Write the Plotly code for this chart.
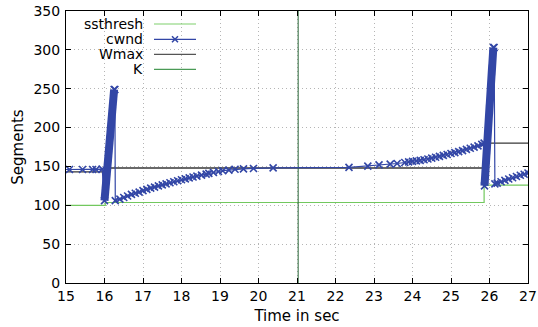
import plotly.graph_objects as go

# ---- data ----
ss_time = [15, 16.02, 25.86, 27]
ssthresh = [100, 103.6, 126, 126]

wmax_time = [15, 16.02, 25.86, 27]
wmax = [143, 148, 180, 180]

k_time = [21.03, 21.03]
k_val = [0, 350]

cwnd_time = [14.9, 15.09, 15.43, 15.69, 15.78, 15.94,
             16.00, 16.25, 16.27, 16.28,
             16.40, 16.50, 16.60, 16.70, 16.80, 16.90, 17.00, 17.10, 17.20, 17.30,
             17.40, 17.50, 17.60, 17.70, 17.80, 17.90, 18.00, 18.10, 18.20, 18.30,
             18.40, 18.52, 18.64, 18.71, 18.83, 18.96, 19.07, 19.23, 19.39, 19.61,
             19.87, 20.38,
             22.35, 22.84, 23.13, 23.42, 23.60, 23.80, 23.90, 24.00, 24.10, 24.20,
             24.30, 24.40, 24.50, 24.60, 24.70, 24.80, 24.90, 25.00, 25.10, 25.20,
             25.30, 25.40, 25.50, 25.60, 25.70, 25.80, 25.86,
             25.87, 26.10, 26.12, 26.14,
             26.20, 26.30, 26.40, 26.50, 26.60, 26.70, 26.80, 26.90, 27.00]
cwnd = [146, 146, 146, 146, 146, 146.5,
        106, 249, 249, 106,
        108, 110, 112, 114, 115.5, 117, 118.8, 120.4, 122, 123.4,
        124.9, 126.3, 127.6, 129, 130.3, 131.6, 132.8, 134, 135.3, 136.4,
        137.6, 138.8, 140.1, 141, 142.2, 143.5, 144.5, 145.3, 146.3, 146.9,
        147.4, 148.2,
        148.7, 150.4, 152, 153, 153.8, 155.1, 155.8, 156.5, 157.1, 157.8,
        158.6, 159.5, 160.6, 161.8, 163.0, 164.2, 165.4, 166.6, 167.8, 169.1,
        170.4, 171.9, 173.4, 174.8, 176.4, 178.3, 180,
        125, 303, 303, 127.5,
        128.5, 130.3, 132.1, 133.8, 135.5, 137, 138.6, 140, 141.5]

# dense slow-start bursts (drawn as thick bands in the reference)
burst1_time = [16.00, 16.25]
burst1 = [106, 249]
burst2_time = [25.87, 26.10]
burst2 = [125, 303]

legend_names = ["ssthresh", "cwnd", "Wmax", "K"]

C_SS = "#72c85e"
C_CWND = "#3246a6"
C_WMAX = "#383838"
C_K = "#2a6638"
FONT = "DejaVu Sans"

fig = go.Figure()
fig.add_trace(go.Scatter(x=ss_time, y=ssthresh, mode="lines", line_shape="hv",
                         line=dict(color=C_SS, width=1.2), name=legend_names[0]))
fig.add_trace(go.Scatter(x=wmax_time, y=wmax, mode="lines", line_shape="hv",
                         line=dict(color=C_WMAX, width=1.3), name=legend_names[2]))
fig.add_trace(go.Scatter(x=k_time, y=k_val, mode="lines",
                         line=dict(color=C_K, width=1), name=legend_names[3]))
fig.add_trace(go.Scatter(x=cwnd_time, y=cwnd, mode="lines+markers",
                         line=dict(color=C_CWND, width=1.2),
                         marker=dict(symbol="x-thin", size=7,
                                     line=dict(color=C_CWND, width=1.6)),
                         name=legend_names[1]))
for bt, bv in ((burst1_time, burst1), (burst2_time, burst2)):
    fig.add_trace(go.Scatter(x=bt, y=bv, mode="lines",
                             line=dict(color=C_CWND, width=8), showlegend=False))

# manual gnuplot-style key (text then sample)
L, R, T, B = 66, 10, 11, 44
W, H = 538, 327
pw, ph = W - L - R, H - T - B
def px(xp):
    return (xp - L) / pw
def py(yp):
    return 1 - (yp - T) / ph

key_y = [24, 39.3, 54.3, 69.3]
key_col = ["#7fcf6c", C_CWND, "#555555", "#4a9a56"]
shapes = []
annotations = []
for name, yy, col in zip(legend_names, key_y, key_col):
    annotations.append(dict(x=px(145), y=py(yy), xref="paper", yref="paper",
                            text=name, showarrow=False, xanchor="right", yanchor="middle",
                            font=dict(family=FONT, size=14, color="#000")))
    shapes.append(dict(type="line", xref="paper", yref="paper",
                       x0=px(154), x1=px(196), y0=py(yy), y1=py(yy),
                       line=dict(color=col, width=1.2)))
fig.add_trace(go.Scatter(x=[px(175)], y=[py(key_y[1])], xaxis="x2", yaxis="y2",
                         mode="markers", showlegend=False, hoverinfo="skip",
                         marker=dict(symbol="x-thin", size=6,
                                     line=dict(color=C_CWND, width=1.5))))

axis_common = dict(showline=True, linecolor="#000", linewidth=1, mirror="allticks",
                   ticks="inside", ticklen=5, tickcolor="#000", automargin=False,
                   showgrid=True, gridcolor="#b5b5b5", griddash="1px,3px", gridwidth=1,
                   zeroline=False,
                   tickfont=dict(family=FONT, size=14, color="#000"))

fig.update_layout(
    template="none",
    width=W, height=H,
    margin=dict(l=L, r=R, t=T, b=B),
    paper_bgcolor="white", plot_bgcolor="white",
    showlegend=False,
    xaxis=dict(range=[15, 27], dtick=1, tick0=15,
               title=dict(text="Time in sec", font=dict(family=FONT, size=15, color="#000"),
                          standoff=7),
               **axis_common),
    yaxis=dict(range=[0, 350], dtick=50, tick0=0, ticklabelstandoff=2,
               title=dict(text="Segments", font=dict(family=FONT, size=15, color="#000"),
                          standoff=6),
               **axis_common),
    xaxis2=dict(overlaying="x", range=[0, 1], visible=False, automargin=False),
    yaxis2=dict(overlaying="y", range=[0, 1], visible=False, automargin=False),
    shapes=shapes,
    annotations=annotations,
)

fig.write_html("out.html", config={"displayModeBar": False},
               post_script="document.body.style.margin='0';document.body.style.overflow='hidden';")
